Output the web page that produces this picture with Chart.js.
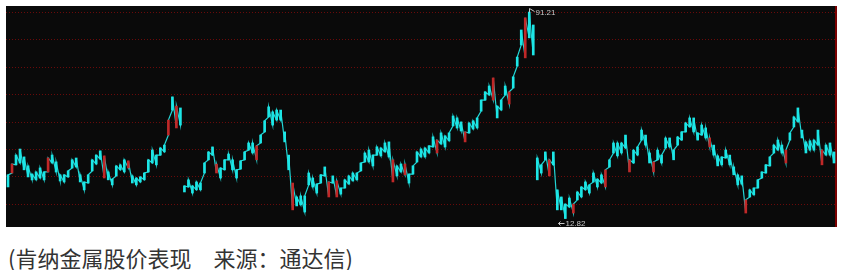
<!DOCTYPE html>
<html lang="zh">
<head>
<meta charset="UTF-8">
<title>肯纳金属股价表现</title>
<script src="https://cdn.jsdelivr.net/npm/chart.js@4.4.1/dist/chart.umd.min.js"></script>
<style>
  html, body { margin: 0; padding: 0; background: #fff; }
  #wrap { position: relative; width: 846px; height: 270px; overflow: hidden; }
  #chart { position: absolute; left: 0; top: 0; }
  #caption {
    position: absolute; left: 8px; top: 241px;
    font: 22px "Noto Sans CJK SC", sans-serif; color: #333; white-space: pre;
  }
</style>
</head>
<body>
<div id="wrap">
  <canvas id="chart" width="846" height="232"></canvas>
  <div id="caption">(肯纳金属股价表现　来源：通达信)</div>
</div>

<script>
// weekly high / low (three stretches, price jumps between them)
const highs = [
  29.4, 33.5, 36.9, 39.2, 36.2, 32.8, 29.7, 30.5, 32.0, 30.5, 35.8, 36.9, 34.3, 29.4, 29.4,
  30.9, 35.1, 35.8, 29.4, 26.7, 29.4, 35.1, 36.9, 38.5, 36.6, 30.5, 27.8, 32.8, 33.2, 35.1,
  34.7, 29.0, 28.2, 28.6, 30.1, 35.1, 38.8, 36.9, 39.6, 40.7, 50.2, 59.0, 55.5, 54.8,
  25.2, 27.5, 25.2, 26.7, 26.3, 33.9, 38.1, 40.0, 33.5, 32.0,
  35.1, 37.3, 35.1, 31.3, 34.7, 38.1, 41.5, 41.5, 40.4, 44.5,
  49.9, 55.2, 53.3, 54.0, 54.0, 45.7, 36.9, 26.3, 21.0, 21.4,
  21.4, 30.1, 28.2, 25.9, 29.4, 32.4, 26.7, 29.0, 27.1, 24.4,
  27.5, 29.0, 30.1, 30.1, 33.9, 37.7, 38.8, 36.9, 40.0, 39.6,
  41.5, 41.9, 35.1, 32.8, 33.5, 33.5, 29.7, 32.8, 38.1, 39.2,
  39.6, 40.4, 43.8, 42.6, 45.3, 44.2, 45.3, 51.7, 51.0, 49.5,
  45.7, 49.1, 49.9, 51.0, 57.8, 60.9, 63.1, 66.2, 55.5, 57.8,
  63.1, 60.9, 66.6, 74.1, 84.4, 89.0, 91.21, 86.3,
  35.8, 33.2, 38.1, 35.1, 38.1, 23.7, 21.0, 18.3, 20.6, 18.3,
  22.9, 24.8, 26.7, 25.6, 30.1, 27.8, 29.4, 31.3, 35.1, 41.5,
  41.5, 41.5, 44.5, 35.1, 38.8, 40.0, 46.4, 44.5, 37.7, 34.3,
  38.8, 36.9, 43.4, 43.4, 38.8, 43.8, 45.7, 49.1, 51.0, 51.0,
  45.3, 48.3, 47.2, 43.4, 40.7, 36.6, 36.2, 38.8, 36.9, 32.4,
  29.4, 29.0, 19.9, 23.7, 24.4, 27.5, 30.5, 33.2, 36.2, 40.7,
  42.6, 40.7, 38.8, 45.3, 51.4, 54.8, 46.4, 41.9, 42.3, 42.6,
  46.4, 38.8, 40.7, 41.5, 38.1
];
const lows = [
  24.8, 30.1, 33.2, 33.9, 31.3, 28.6, 27.5, 27.5, 28.2, 27.5, 30.5, 33.9, 30.5, 27.1, 26.7,
  28.6, 32.0, 32.4, 26.7, 23.7, 26.3, 30.9, 33.5, 35.4, 28.2, 27.5, 25.6, 29.0, 31.3, 30.5,
  32.0, 26.3, 25.6, 26.7, 27.5, 30.5, 33.9, 33.2, 36.9, 38.1, 44.5, 54.0, 47.2, 48.3,
  22.9, 24.8, 22.5, 23.7, 23.7, 30.1, 35.1, 36.9, 30.1, 28.2,
  31.3, 35.1, 31.3, 28.2, 31.6, 35.1, 38.8, 37.7, 35.1, 41.5,
  45.7, 51.4, 48.3, 50.2, 50.2, 41.9, 31.3, 16.1, 17.6, 18.0,
  15.3, 25.6, 24.8, 22.5, 26.3, 29.0, 21.0, 26.3, 21.0, 22.1,
  24.4, 25.9, 27.1, 27.5, 30.9, 34.3, 34.3, 32.8, 36.9, 36.6,
  38.1, 36.2, 26.7, 29.0, 30.5, 29.4, 26.3, 29.7, 34.3, 36.2,
  36.2, 37.7, 40.0, 37.7, 41.1, 40.0, 42.3, 48.0, 47.2, 46.1,
  41.9, 45.3, 46.8, 47.2, 53.6, 57.8, 59.7, 57.8, 51.0, 54.0,
  59.7, 56.3, 62.4, 70.7, 78.7, 73.8, 81.4, 74.9,
  27.5, 30.1, 35.1, 29.0, 33.2, 16.1, 16.1, 12.82, 17.2, 14.9,
  19.9, 21.0, 23.7, 22.5, 26.7, 24.8, 26.3, 24.8, 32.4, 37.7,
  36.6, 37.7, 39.6, 30.5, 33.9, 36.9, 42.6, 40.7, 33.9, 30.5,
  35.1, 33.9, 39.6, 40.0, 35.1, 40.7, 42.6, 45.7, 47.6, 45.7,
  42.6, 44.5, 43.4, 40.0, 36.9, 32.8, 33.2, 35.8, 33.2, 29.4,
  25.6, 25.9, 14.9, 21.0, 21.8, 24.4, 28.2, 30.1, 32.8, 37.7,
  38.8, 37.7, 33.9, 42.6, 47.6, 49.5, 43.4, 37.7, 38.8, 38.8,
  40.7, 33.2, 36.9, 36.9, 33.9
];
// weeks that show up red in the picture
const redBars = [1, 10, 24, 30, 40, 42, 52, 62, 71, 80, 82, 96, 99, 107, 114, 121, 125,
  129, 135, 141, 149, 155, 161, 175, 184, 194, 203];
// first week of each stretch after a price jump
const breaks = [44, 132];
// dotted price lines
const gridLevels = [18.4, 28.8, 39.2, 49.6, 60.0, 70.4, 80.8, 91.2];
const weeks = highs.map((h, i) => 'W' + (i + 1));

// zigzag trace low -> high through every week, cut at the jumps
const trace = [];
highs.forEach((h, i) => {
  if (breaks.includes(i)) trace.push({ x: weeks[i], y: null });
  trace.push({ x: weeks[i], y: lows[i] }, { x: weeks[i], y: h });
});

const bgPlugin = {
  id: 'bg',
  beforeDatasetsDraw(chart) {
    const { ctx, chartArea: a, scales: { y } } = chart;
    ctx.save();
    ctx.fillStyle = '#0a0a0a';
    ctx.fillRect(a.left, a.top, a.right - a.left, a.bottom - a.top);
    ctx.strokeStyle = '#6a0a0a';
    ctx.lineWidth = 1;
    ctx.setLineDash([1, 2]);
    gridLevels.forEach(v => {
      const py = Math.round(y.getPixelForValue(v)) + 0.5;
      ctx.beginPath();
      ctx.moveTo(a.left, py);
      ctx.lineTo(a.right, py);
      ctx.stroke();
    });
    ctx.setLineDash([]);
    ctx.strokeStyle = '#7a0000';
    ctx.lineWidth = 2;
    ctx.beginPath();
    ctx.moveTo(a.right, a.top);
    ctx.lineTo(a.right, a.bottom);
    ctx.stroke();
    ctx.restore();
  }
};

const markPlugin = {
  id: 'marks',
  afterDatasetsDraw(chart) {
    const { ctx, scales: { x: xs, y } } = chart;
    const hi = highs.indexOf(Math.max(...highs));
    const lo = lows.indexOf(Math.min(...lows));
    ctx.save();
    ctx.strokeStyle = '#c8c8c8';
    ctx.fillStyle = '#c8c8c8';
    ctx.lineWidth = 1;
    ctx.font = '8px "Liberation Sans", Arial, sans-serif';
    ctx.textBaseline = 'middle';

    let x = Math.round(xs.getPixelForValue(hi)) + 0.5;
    let py = Math.round(y.getPixelForValue(highs[hi])) + 0.5;
    ctx.beginPath();
    ctx.moveTo(x, py);
    ctx.lineTo(x, py - 4);
    ctx.lineTo(x + 5, py - 1);
    ctx.stroke();
    ctx.fillText(highs[hi].toFixed(2), x + 6, py);

    x = Math.round(xs.getPixelForValue(lo)) + 0.5;
    py = Math.round(y.getPixelForValue(lows[lo])) + 4.5;
    ctx.beginPath();
    ctx.moveTo(x - 1, py);
    ctx.lineTo(x - 7, py);
    ctx.moveTo(x - 5, py - 2);
    ctx.lineTo(x - 7, py);
    ctx.lineTo(x - 5, py + 2);
    ctx.stroke();
    ctx.fillText(lows[lo].toFixed(2), x, py);
    ctx.restore();
  }
};

new Chart(document.getElementById('chart'), {
  type: 'bar',
  data: {
    labels: weeks,
    datasets: [{
      data: highs.map((h, i) => redBars.includes(i) ? null : [lows[i], h]),
      backgroundColor: '#1ce6e6',
      borderWidth: 0,
      barThickness: 2,
      grouped: false,
      order: 2
    }, {
      data: highs.map((h, i) => redBars.includes(i) ? [lows[i], h] : null),
      backgroundColor: '#c02828',
      borderWidth: 0,
      barThickness: 2,
      grouped: false,
      order: 1
    }, {
      type: 'line',
      data: trace,
      borderColor: '#22d6d6',
      borderWidth: 1.2,
      pointRadius: 0,
      spanGaps: false,
      order: 3
    }]
  },
  options: {
    responsive: false,
    animation: false,
    layout: { padding: { left: 6, top: 6, right: 10, bottom: 5 } },
    plugins: { legend: { display: false }, tooltip: { enabled: false } },
    scales: {
      x: { display: false, offset: true },
      y: { display: false, min: 9.6, max: 93.5 }
    }
  },
  plugins: [bgPlugin, markPlugin]
});
</script>
</body>
</html>
